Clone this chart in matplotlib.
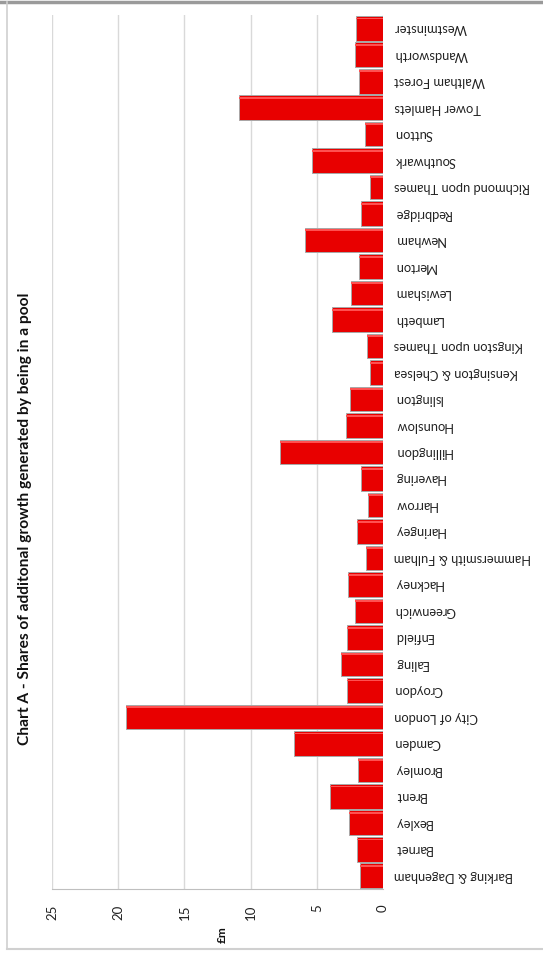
import matplotlib
matplotlib.use("Agg")
import matplotlib.pyplot as plt
from matplotlib.lines import Line2D

boroughs = [
    "Barking & Dagenham", "Barnet", "Bexley", "Brent", "Bromley", "Camden",
    "City of London", "Croydon", "Ealing", "Enfield", "Greenwich", "Hackney",
    "Hammersmith & Fulham", "Haringey", "Harrow", "Havering", "Hillingdon",
    "Hounslow", "Islington", "Kensington & Chelsea", "Kingston upon Thames",
    "Lambeth", "Lewisham", "Merton", "Newham", "Redbridge",
    "Richmond upon Thames", "Southwark", "Sutton", "Tower Hamlets",
    "Waltham Forest", "Wandsworth", "Westminster",
]
values = [
    1.74, 1.97, 2.54, 4.02, 1.87, 6.74,
    19.43, 2.72, 3.17, 2.75, 2.14, 2.67,
    1.31, 1.96, 1.16, 1.66, 7.76,
    2.80, 2.47, 1.01, 1.23,
    3.85, 2.44, 1.79, 5.87, 1.66,
    0.95, 5.36, 1.37, 10.88,
    1.81, 2.15, 2.02,
]
value_ticks = [0, 5, 10, 15, 20, 25]
title = "Chart A - Shares of additonal growth generated by being in a pool"
unit_label = "£m"

W, H = 543, 956
fig = plt.figure(figsize=(W / 100, H / 100), dpi=100)
fig.patch.set_facecolor("white")

left, right, top, bottom = 52, 383, 15, 889
ax = fig.add_axes([left / W, 1 - bottom / H, (right - left) / W, (bottom - top) / H])

font = "Lato"
ypos = list(range(len(boroughs)))
ax.barh(ypos, values, height=0.93, color="#E80000", edgecolor="#A8A8A8",
        linewidth=0.7, zorder=3)
# subtle highlight on top of each bar
ax.barh([y + 0.37 for y in ypos], values, height=0.07, color="#FF5050",
        linewidth=0, zorder=4)

ax.set_xlim(25, 0)
ax.set_ylim(-0.5, len(boroughs) - 0.5)
ax.set_xticks(value_ticks)
ax.set_xticklabels([str(v) for v in value_ticks], rotation=90, fontsize=9.5,
                   family=font, color="#222222")
ax.tick_params(axis="x", length=0, pad=11)
ax.yaxis.tick_right()
ax.set_yticks(ypos)
ax.set_yticklabels(boroughs, rotation=180, fontsize=9.3, family=font,
                   color="#222222", ha="left", va="center")
ax.tick_params(axis="y", length=0, pad=8)

ax.grid(axis="x", color="#D9D9D9", linewidth=1.0, zorder=0)
ax.set_axisbelow(True)
for s in ["top", "left", "right"]:
    ax.spines[s].set_visible(False)
ax.spines["bottom"].set_color("#BFBFBF")

fig.text(25 / W, 1 - 519 / H, title, rotation=90, ha="center", va="center",
         fontsize=11.2, fontweight="bold", family=font, color="#111111")
fig.text(222 / W, 1 - 935 / H, unit_label, rotation=90, ha="center",
         va="center", fontsize=8.5, fontweight="bold", family=font,
         color="#111111")

# chart border
fig.add_artist(Line2D([0, 1], [1 - 1.5 / H, 1 - 1.5 / H], color="#9A9A9A",
                      linewidth=2.5, transform=fig.transFigure))
fig.add_artist(Line2D([6.5 / W, 6.5 / W], [1 - 949 / H, 1 - 2 / H],
                      color="#D0D0D0", linewidth=1.2,
                      transform=fig.transFigure))
fig.add_artist(Line2D([6.5 / W, 1], [1 - 949 / H, 1 - 949 / H],
                      color="#D0D0D0", linewidth=1.5,
                      transform=fig.transFigure))

fig.savefig("out.png", dpi=100)
